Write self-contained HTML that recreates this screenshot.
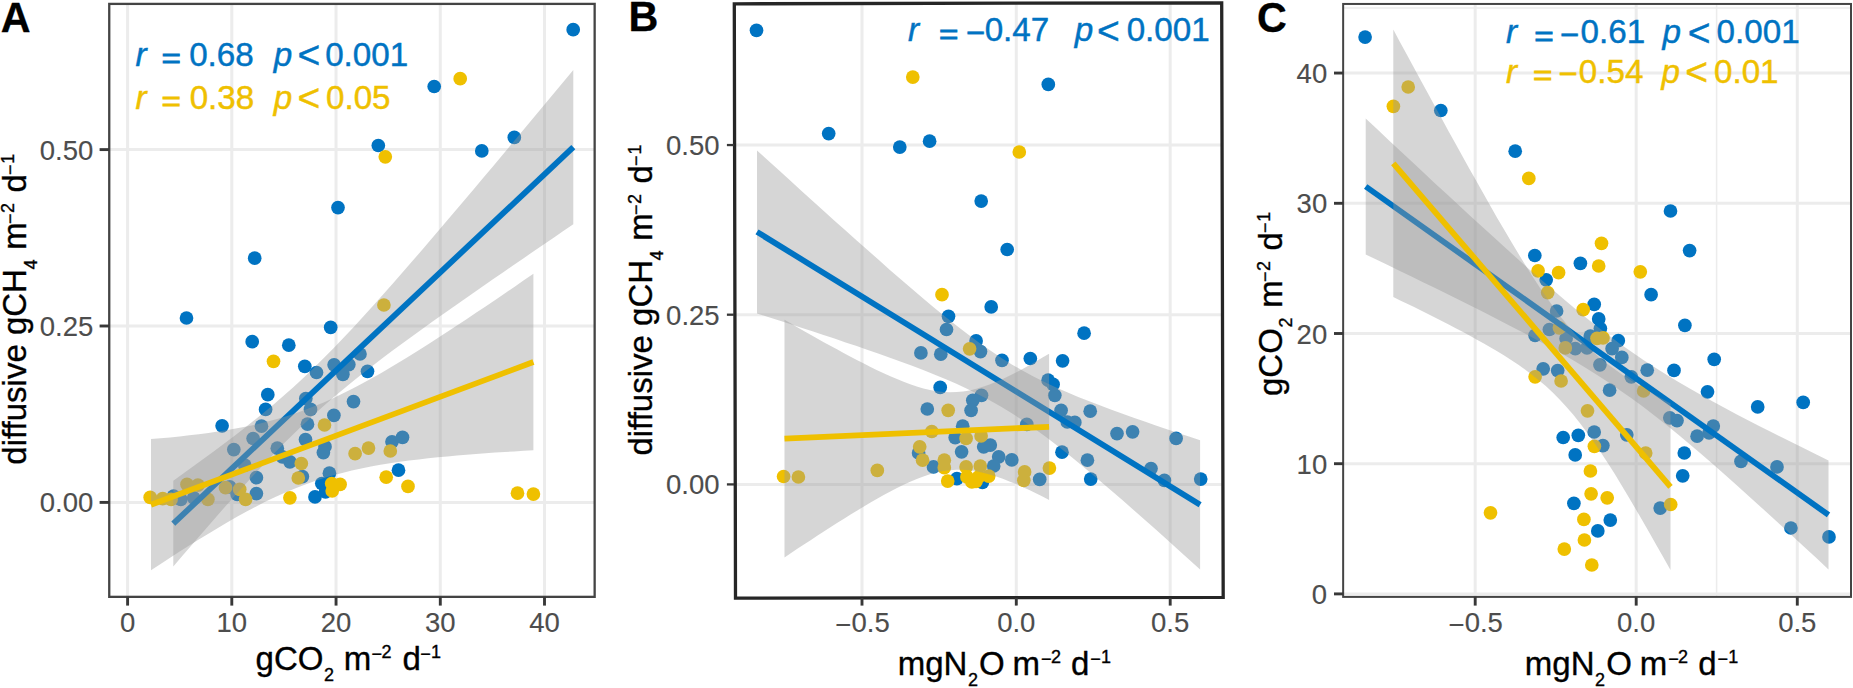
<!DOCTYPE html>
<html lang="en"><head><meta charset="utf-8"><title>Figure</title>
<style>
html,body{margin:0;padding:0;background:#fff;}
svg{display:block;}
text{font-family:"Liberation Sans",Arial,Helvetica,sans-serif;}
.tk text{fill:#4D4D4D;stroke:#4D4D4D;stroke-width:0.15px;}
.ax text{fill:#000;stroke:#000;stroke-width:0.35px;}
.lab{font-weight:bold;fill:#000;stroke:#000;stroke-width:0.3px;}
.i{font-style:italic;}
</style></head><body>
<svg width="1853" height="688" viewBox="0 0 1853 688">
<rect width="1853" height="688" fill="#fff"/>
<g id="panelA">
<clipPath id="ca"><rect x="109.25" y="3.9" width="485.4" height="592.95"/></clipPath>
<g clip-path="url(#ca)">
<line x1="109.25" y1="149.6" x2="594.65" y2="149.6" stroke="#ECECEC" stroke-width="3.0"/>
<line x1="109.25" y1="326.0" x2="594.65" y2="326.0" stroke="#ECECEC" stroke-width="3.0"/>
<line x1="109.25" y1="502.4" x2="594.65" y2="502.4" stroke="#ECECEC" stroke-width="3.0"/>
<line x1="127.6" y1="3.9" x2="127.6" y2="596.85" stroke="#ECECEC" stroke-width="3.0"/>
<line x1="231.8" y1="3.9" x2="231.8" y2="596.85" stroke="#ECECEC" stroke-width="3.0"/>
<line x1="336.05" y1="3.9" x2="336.05" y2="596.85" stroke="#ECECEC" stroke-width="3.0"/>
<line x1="440.3" y1="3.9" x2="440.3" y2="596.85" stroke="#ECECEC" stroke-width="3.0"/>
<line x1="544.5" y1="3.9" x2="544.5" y2="596.85" stroke="#ECECEC" stroke-width="3.0"/>
<circle cx="573.2" cy="29.7" r="6.85" fill="#0073C2"/>
<circle cx="434.2" cy="86.5" r="6.85" fill="#0073C2"/>
<circle cx="378.3" cy="145.5" r="6.85" fill="#0073C2"/>
<circle cx="481.8" cy="150.9" r="6.85" fill="#0073C2"/>
<circle cx="514.3" cy="137.4" r="6.85" fill="#0073C2"/>
<circle cx="338" cy="207.6" r="6.85" fill="#0073C2"/>
<circle cx="254.7" cy="258.2" r="6.85" fill="#0073C2"/>
<circle cx="186.5" cy="318" r="6.85" fill="#0073C2"/>
<circle cx="330.7" cy="327.4" r="6.85" fill="#0073C2"/>
<circle cx="252.2" cy="341.7" r="6.85" fill="#0073C2"/>
<circle cx="288.8" cy="345.2" r="6.85" fill="#0073C2"/>
<circle cx="304.8" cy="366.3" r="6.85" fill="#0073C2"/>
<circle cx="360" cy="354" r="6.85" fill="#0073C2"/>
<circle cx="334.1" cy="364.8" r="6.85" fill="#0073C2"/>
<circle cx="348.8" cy="364.6" r="6.85" fill="#0073C2"/>
<circle cx="367.5" cy="371.3" r="6.85" fill="#0073C2"/>
<circle cx="316.5" cy="372.5" r="6.85" fill="#0073C2"/>
<circle cx="342.9" cy="374.3" r="6.85" fill="#0073C2"/>
<circle cx="267.8" cy="394.7" r="6.85" fill="#0073C2"/>
<circle cx="265.6" cy="409.4" r="6.85" fill="#0073C2"/>
<circle cx="222.1" cy="425.8" r="6.85" fill="#0073C2"/>
<circle cx="305.8" cy="398.6" r="6.85" fill="#0073C2"/>
<circle cx="310.5" cy="409.4" r="6.85" fill="#0073C2"/>
<circle cx="353.5" cy="401.6" r="6.85" fill="#0073C2"/>
<circle cx="333.9" cy="415.3" r="6.85" fill="#0073C2"/>
<circle cx="307.5" cy="424.2" r="6.85" fill="#0073C2"/>
<circle cx="261.5" cy="426.2" r="6.85" fill="#0073C2"/>
<circle cx="253.1" cy="438.5" r="6.85" fill="#0073C2"/>
<circle cx="305.5" cy="439.6" r="6.85" fill="#0073C2"/>
<circle cx="233.8" cy="449.6" r="6.85" fill="#0073C2"/>
<circle cx="277.3" cy="448.2" r="6.85" fill="#0073C2"/>
<circle cx="325" cy="446.7" r="6.85" fill="#0073C2"/>
<circle cx="323.4" cy="452.6" r="6.85" fill="#0073C2"/>
<circle cx="392" cy="441.8" r="6.85" fill="#0073C2"/>
<circle cx="402.5" cy="437.3" r="6.85" fill="#0073C2"/>
<circle cx="282.4" cy="456.8" r="6.85" fill="#0073C2"/>
<circle cx="289.9" cy="461.8" r="6.85" fill="#0073C2"/>
<circle cx="256.4" cy="477.7" r="6.85" fill="#0073C2"/>
<circle cx="244.7" cy="465.1" r="6.85" fill="#0073C2"/>
<circle cx="302.4" cy="476.6" r="6.85" fill="#0073C2"/>
<circle cx="329.4" cy="473.2" r="6.85" fill="#0073C2"/>
<circle cx="321.8" cy="483.5" r="6.85" fill="#0073C2"/>
<circle cx="325.5" cy="491.9" r="6.85" fill="#0073C2"/>
<circle cx="315" cy="496.9" r="6.85" fill="#0073C2"/>
<circle cx="398.5" cy="470.2" r="6.85" fill="#0073C2"/>
<circle cx="256.4" cy="493.6" r="6.85" fill="#0073C2"/>
<circle cx="229.7" cy="486.9" r="6.85" fill="#0073C2"/>
<circle cx="237.2" cy="494.4" r="6.85" fill="#0073C2"/>
<circle cx="173.6" cy="496.1" r="6.85" fill="#0073C2"/>
<circle cx="180.8" cy="499.4" r="6.85" fill="#0073C2"/>
<circle cx="193.7" cy="497.8" r="6.85" fill="#0073C2"/>
<circle cx="460.2" cy="78.7" r="6.85" fill="#EFC000"/>
<circle cx="385.3" cy="156.8" r="6.85" fill="#EFC000"/>
<circle cx="383.9" cy="305" r="6.85" fill="#EFC000"/>
<circle cx="273.5" cy="361.3" r="6.85" fill="#EFC000"/>
<circle cx="324.5" cy="425" r="6.85" fill="#EFC000"/>
<circle cx="368.5" cy="448.1" r="6.85" fill="#EFC000"/>
<circle cx="355.1" cy="453.7" r="6.85" fill="#EFC000"/>
<circle cx="390.3" cy="451" r="6.85" fill="#EFC000"/>
<circle cx="301.3" cy="463.5" r="6.85" fill="#EFC000"/>
<circle cx="298.3" cy="478" r="6.85" fill="#EFC000"/>
<circle cx="331.7" cy="483.5" r="6.85" fill="#EFC000"/>
<circle cx="340.1" cy="484.4" r="6.85" fill="#EFC000"/>
<circle cx="332.2" cy="491" r="6.85" fill="#EFC000"/>
<circle cx="386.2" cy="477.2" r="6.85" fill="#EFC000"/>
<circle cx="408" cy="486.4" r="6.85" fill="#EFC000"/>
<circle cx="289.9" cy="497.8" r="6.85" fill="#EFC000"/>
<circle cx="187" cy="484.4" r="6.85" fill="#EFC000"/>
<circle cx="197.9" cy="485.2" r="6.85" fill="#EFC000"/>
<circle cx="225.5" cy="487.7" r="6.85" fill="#EFC000"/>
<circle cx="239.7" cy="489.4" r="6.85" fill="#EFC000"/>
<circle cx="245.6" cy="499.4" r="6.85" fill="#EFC000"/>
<circle cx="150.2" cy="497.4" r="6.85" fill="#EFC000"/>
<circle cx="162.7" cy="498.6" r="6.85" fill="#EFC000"/>
<circle cx="171.1" cy="499.4" r="6.85" fill="#EFC000"/>
<circle cx="207.9" cy="499.4" r="6.85" fill="#EFC000"/>
<circle cx="517.5" cy="493.2" r="6.85" fill="#EFC000"/>
<circle cx="533.4" cy="494.1" r="6.85" fill="#EFC000"/>
<path d="M173.3,480.7 L183.3,473.5 L193.3,466.3 L203.3,459.1 L213.3,451.7 L223.3,444.3 L233.3,436.7 L243.3,429.0 L253.3,421.1 L263.3,413.0 L273.3,404.7 L283.3,396.1 L293.3,387.2 L303.3,378.0 L313.3,368.5 L323.3,358.6 L333.3,348.5 L343.3,338.1 L353.3,327.4 L363.3,316.6 L373.3,305.5 L383.3,294.3 L393.3,283.0 L403.3,271.6 L413.3,260.1 L423.3,248.5 L433.3,236.8 L443.3,225.1 L453.3,213.3 L463.3,201.5 L473.3,189.7 L483.3,177.8 L493.3,165.9 L503.3,154.0 L513.3,142.0 L523.3,130.1 L533.3,118.1 L543.3,106.1 L553.3,94.1 L563.3,82.1 L573.3,70.1 L573.3,224.3 L563.3,231.1 L553.3,237.9 L543.3,244.7 L533.3,251.6 L523.3,258.4 L513.3,265.3 L503.3,272.2 L493.3,279.1 L483.3,286.0 L473.3,292.9 L463.3,299.9 L453.3,306.9 L443.3,314.0 L433.3,321.1 L423.3,328.2 L413.3,335.5 L403.3,342.8 L393.3,350.1 L383.3,357.6 L373.3,365.3 L363.3,373.0 L353.3,381.0 L343.3,389.2 L333.3,397.6 L323.3,406.3 L313.3,415.3 L303.3,424.6 L293.3,434.2 L283.3,444.1 L273.3,454.3 L263.3,464.8 L253.3,475.6 L243.3,486.5 L233.3,497.6 L223.3,508.8 L213.3,520.2 L203.3,531.7 L193.3,543.2 L183.3,554.8 L173.3,566.5Z" fill="#999999" fill-opacity="0.4"/>
<line x1="173.3" y1="523.6" x2="573.3" y2="147.2" stroke="#0073C2" stroke-width="5.8"/>
<path d="M151.0,439.1 L160.6,438.3 L170.1,437.4 L179.7,436.4 L189.2,435.3 L198.8,434.2 L208.4,432.9 L217.9,431.5 L227.5,430.0 L237.0,428.3 L246.6,426.5 L256.2,424.4 L265.7,422.1 L275.3,419.6 L284.8,416.8 L294.4,413.7 L304.0,410.3 L313.5,406.6 L323.1,402.7 L332.6,398.4 L342.2,393.8 L351.8,389.0 L361.3,384.0 L370.9,378.8 L380.4,373.4 L390.0,367.8 L399.6,362.1 L409.1,356.2 L418.7,350.2 L428.2,344.2 L437.8,338.0 L447.4,331.8 L456.9,325.5 L466.5,319.2 L476.0,312.8 L485.6,306.4 L495.2,299.9 L504.7,293.4 L514.3,286.9 L523.8,280.3 L533.4,273.7 L533.4,450.3 L523.8,450.8 L514.3,451.4 L504.7,452.0 L495.2,452.6 L485.6,453.3 L476.0,454.0 L466.5,454.7 L456.9,455.5 L447.4,456.4 L437.8,457.3 L428.2,458.3 L418.7,459.4 L409.1,460.6 L399.6,461.8 L390.0,463.2 L380.4,464.8 L370.9,466.5 L361.3,468.4 L351.8,470.5 L342.2,472.9 L332.6,475.5 L323.1,478.3 L313.5,481.5 L304.0,484.9 L294.4,488.7 L284.8,492.7 L275.3,497.0 L265.7,501.6 L256.2,506.5 L246.6,511.6 L237.0,516.8 L227.5,522.3 L217.9,527.9 L208.4,533.7 L198.8,539.6 L189.2,545.5 L179.7,551.6 L170.1,557.8 L160.6,564.0 L151.0,570.3Z" fill="#999999" fill-opacity="0.4"/>
<line x1="151.0" y1="504.7" x2="533.4" y2="362.0" stroke="#EFC000" stroke-width="5.8"/>
</g>
<rect x="109.25" y="3.9" width="485.4" height="592.95" fill="none" stroke="#444" stroke-width="2.3"/>
<line x1="127.6" y1="596.85" x2="127.6" y2="605.6" stroke="#383838" stroke-width="2.9"/>
<line x1="231.8" y1="596.85" x2="231.8" y2="605.6" stroke="#383838" stroke-width="2.9"/>
<line x1="336.05" y1="596.85" x2="336.05" y2="605.6" stroke="#383838" stroke-width="2.9"/>
<line x1="440.3" y1="596.85" x2="440.3" y2="605.6" stroke="#383838" stroke-width="2.9"/>
<line x1="544.5" y1="596.85" x2="544.5" y2="605.6" stroke="#383838" stroke-width="2.9"/>
<line x1="99.6" y1="149.6" x2="109.25" y2="149.6" stroke="#383838" stroke-width="2.9"/>
<line x1="99.6" y1="326.0" x2="109.25" y2="326.0" stroke="#383838" stroke-width="2.9"/>
<line x1="99.6" y1="502.4" x2="109.25" y2="502.4" stroke="#383838" stroke-width="2.9"/>
<g class="tk">
<text x="127.6" y="632.1" text-anchor="middle" font-size="27.5">0</text>
<text x="231.8" y="632.1" text-anchor="middle" font-size="27.5">10</text>
<text x="336.05" y="632.1" text-anchor="middle" font-size="27.5">20</text>
<text x="440.3" y="632.1" text-anchor="middle" font-size="27.5">30</text>
<text x="544.5" y="632.1" text-anchor="middle" font-size="27.5">40</text>
<text x="39.74" y="159.6" font-size="27.5">0.50</text>
<text x="39.81" y="336" font-size="27.5">0.25</text>
<text x="39.74" y="512.4" font-size="27.5">0.00</text>
</g>
<g class="ax">
<text x="255.6" y="669.8" font-size="33">gCO</text>
<text x="324.1" y="680.5" font-size="18">2</text>
<text x="343.77" y="669.8" font-size="33">m</text>
<text x="371.6" y="659.6" font-size="18">−</text>
<text x="381.4" y="658.2" font-size="18">2</text>
<text x="402.4" y="669.8" font-size="33">d</text>
<text x="420.2" y="659.6" font-size="18">−</text>
<text x="431.05" y="658.2" font-size="18">1</text>
</g>
<g class="ax">
<text transform="translate(26,464.7) rotate(-90)" font-size="33">diffusive gCH</text>
<text transform="translate(36.7,269.6) rotate(-90)" font-size="18">4</text>
<text transform="translate(26,249.83) rotate(-90)" font-size="33">m</text>
<text transform="translate(15.8,224.1) rotate(-90)" font-size="18">−</text>
<text transform="translate(14.4,213) rotate(-90)" font-size="18">2</text>
<text transform="translate(26,192.5) rotate(-90)" font-size="33">d</text>
<text transform="translate(15.8,175) rotate(-90)" font-size="18">−</text>
<text transform="translate(14.4,163.65) rotate(-90)" font-size="18">1</text>
</g>
<text class="lab" transform="translate(0.87,31.6) scale(0.965,1)" font-size="42.8">A</text>
<g fill="#0073C2" stroke="#0073C2" stroke-width="0.45">
<text class="i" x="135.42" y="65.6" font-size="33.2">r</text>
<text transform="translate(161.54,67.9) scale(1,0.855)" font-size="33.2" stroke-width="1">=</text>
<text x="189.17" y="65.6" font-size="33.2">0.68</text>
<text class="i" x="273.63" y="65.6" font-size="33.2">p</text>
<text x="297.45" y="68.2" font-size="39">&lt;</text>
<text x="325.17" y="65.6" font-size="33.2">0.001</text>
</g>
<g fill="#EFC000" stroke="#EFC000" stroke-width="0.45">
<text class="i" x="135.42" y="108.7" font-size="33.2">r</text>
<text transform="translate(161.54,111) scale(1,0.855)" font-size="33.2" stroke-width="1">=</text>
<text x="189.67" y="108.7" font-size="33.2">0.38</text>
<text class="i" x="273.63" y="108.7" font-size="33.2">p</text>
<text x="297.45" y="111.3" font-size="39">&lt;</text>
<text x="325.97" y="108.7" font-size="33.2">0.05</text>
</g>
</g>
<g id="panelB">
<clipPath id="cb"><rect x="734.9" y="3.3" width="487.5" height="594.5"/></clipPath>
<g clip-path="url(#cb)">
<line x1="734.9" y1="145.05" x2="1222.4" y2="145.05" stroke="#ECECEC" stroke-width="3.0"/>
<line x1="734.9" y1="314.7" x2="1222.4" y2="314.7" stroke="#ECECEC" stroke-width="3.0"/>
<line x1="734.9" y1="484.4" x2="1222.4" y2="484.4" stroke="#ECECEC" stroke-width="3.0"/>
<line x1="862.0" y1="3.3" x2="862.0" y2="597.8" stroke="#ECECEC" stroke-width="3.0"/>
<line x1="1016.3" y1="3.3" x2="1016.3" y2="597.8" stroke="#ECECEC" stroke-width="3.0"/>
<line x1="1170.2" y1="3.3" x2="1170.2" y2="597.8" stroke="#ECECEC" stroke-width="3.0"/>
<circle cx="756.5" cy="30.3" r="6.85" fill="#0073C2"/>
<circle cx="1048.3" cy="84.4" r="6.85" fill="#0073C2"/>
<circle cx="828.7" cy="133.6" r="6.85" fill="#0073C2"/>
<circle cx="899.8" cy="147.1" r="6.85" fill="#0073C2"/>
<circle cx="929.6" cy="141.2" r="6.85" fill="#0073C2"/>
<circle cx="981.2" cy="201.1" r="6.85" fill="#0073C2"/>
<circle cx="1007.2" cy="249.5" r="6.85" fill="#0073C2"/>
<circle cx="991.2" cy="306.9" r="6.85" fill="#0073C2"/>
<circle cx="948.5" cy="316.3" r="6.85" fill="#0073C2"/>
<circle cx="946.5" cy="329.5" r="6.85" fill="#0073C2"/>
<circle cx="976.1" cy="340.9" r="6.85" fill="#0073C2"/>
<circle cx="980.5" cy="351.6" r="6.85" fill="#0073C2"/>
<circle cx="920.9" cy="352.9" r="6.85" fill="#0073C2"/>
<circle cx="940.8" cy="354.2" r="6.85" fill="#0073C2"/>
<circle cx="1002" cy="360.3" r="6.85" fill="#0073C2"/>
<circle cx="1030.3" cy="358.5" r="6.85" fill="#0073C2"/>
<circle cx="1062.6" cy="360.8" r="6.85" fill="#0073C2"/>
<circle cx="1084.1" cy="333.2" r="6.85" fill="#0073C2"/>
<circle cx="940.2" cy="387.4" r="6.85" fill="#0073C2"/>
<circle cx="1048.1" cy="380.2" r="6.85" fill="#0073C2"/>
<circle cx="1053.1" cy="384.4" r="6.85" fill="#0073C2"/>
<circle cx="1054.8" cy="395.3" r="6.85" fill="#0073C2"/>
<circle cx="981.5" cy="395.3" r="6.85" fill="#0073C2"/>
<circle cx="972.8" cy="400.3" r="6.85" fill="#0073C2"/>
<circle cx="971.1" cy="410.3" r="6.85" fill="#0073C2"/>
<circle cx="927.3" cy="409" r="6.85" fill="#0073C2"/>
<circle cx="1061.1" cy="410.3" r="6.85" fill="#0073C2"/>
<circle cx="1090.2" cy="411.2" r="6.85" fill="#0073C2"/>
<circle cx="1074.8" cy="422.4" r="6.85" fill="#0073C2"/>
<circle cx="1067.3" cy="422" r="6.85" fill="#0073C2"/>
<circle cx="962.7" cy="426.2" r="6.85" fill="#0073C2"/>
<circle cx="1026.8" cy="424.4" r="6.85" fill="#0073C2"/>
<circle cx="1117" cy="433.6" r="6.85" fill="#0073C2"/>
<circle cx="1132.6" cy="431.8" r="6.85" fill="#0073C2"/>
<circle cx="1176.1" cy="438.4" r="6.85" fill="#0073C2"/>
<circle cx="955.2" cy="437.6" r="6.85" fill="#0073C2"/>
<circle cx="990.3" cy="445.1" r="6.85" fill="#0073C2"/>
<circle cx="983.7" cy="446.8" r="6.85" fill="#0073C2"/>
<circle cx="918.6" cy="452.9" r="6.85" fill="#0073C2"/>
<circle cx="961.6" cy="451.8" r="6.85" fill="#0073C2"/>
<circle cx="1062" cy="452.2" r="6.85" fill="#0073C2"/>
<circle cx="998.7" cy="456.8" r="6.85" fill="#0073C2"/>
<circle cx="1011.8" cy="459.9" r="6.85" fill="#0073C2"/>
<circle cx="1087.4" cy="460.2" r="6.85" fill="#0073C2"/>
<circle cx="933.5" cy="466.9" r="6.85" fill="#0073C2"/>
<circle cx="993.7" cy="466" r="6.85" fill="#0073C2"/>
<circle cx="1039.7" cy="479.4" r="6.85" fill="#0073C2"/>
<circle cx="1090.7" cy="479.1" r="6.85" fill="#0073C2"/>
<circle cx="1151" cy="468.6" r="6.85" fill="#0073C2"/>
<circle cx="1164.4" cy="480.3" r="6.85" fill="#0073C2"/>
<circle cx="1200.7" cy="479.1" r="6.85" fill="#0073C2"/>
<circle cx="956.9" cy="478.6" r="6.85" fill="#0073C2"/>
<circle cx="982.4" cy="482.3" r="6.85" fill="#0073C2"/>
<circle cx="912.8" cy="77.1" r="6.85" fill="#EFC000"/>
<circle cx="1019.3" cy="152" r="6.85" fill="#EFC000"/>
<circle cx="942" cy="294.7" r="6.85" fill="#EFC000"/>
<circle cx="969.6" cy="348.8" r="6.85" fill="#EFC000"/>
<circle cx="948.2" cy="410.3" r="6.85" fill="#EFC000"/>
<circle cx="931.8" cy="431.5" r="6.85" fill="#EFC000"/>
<circle cx="966.1" cy="438.4" r="6.85" fill="#EFC000"/>
<circle cx="981.1" cy="435.9" r="6.85" fill="#EFC000"/>
<circle cx="919.7" cy="446.8" r="6.85" fill="#EFC000"/>
<circle cx="922.6" cy="460.2" r="6.85" fill="#EFC000"/>
<circle cx="944.3" cy="460.2" r="6.85" fill="#EFC000"/>
<circle cx="944.3" cy="467.7" r="6.85" fill="#EFC000"/>
<circle cx="1049.4" cy="468.1" r="6.85" fill="#EFC000"/>
<circle cx="1024.6" cy="471.9" r="6.85" fill="#EFC000"/>
<circle cx="1023.8" cy="480.3" r="6.85" fill="#EFC000"/>
<circle cx="966.1" cy="466.9" r="6.85" fill="#EFC000"/>
<circle cx="980.3" cy="466" r="6.85" fill="#EFC000"/>
<circle cx="947.7" cy="481.1" r="6.85" fill="#EFC000"/>
<circle cx="966.9" cy="476.9" r="6.85" fill="#EFC000"/>
<circle cx="971.9" cy="481.9" r="6.85" fill="#EFC000"/>
<circle cx="978.6" cy="476.9" r="6.85" fill="#EFC000"/>
<circle cx="988.7" cy="476.1" r="6.85" fill="#EFC000"/>
<circle cx="976" cy="481.3" r="6.85" fill="#EFC000"/>
<circle cx="783.6" cy="476.5" r="6.85" fill="#EFC000"/>
<circle cx="798.4" cy="477" r="6.85" fill="#EFC000"/>
<circle cx="877.3" cy="470.4" r="6.85" fill="#EFC000"/>
<path d="M757.0,150.4 L768.1,160.5 L779.2,170.6 L790.2,180.6 L801.3,190.7 L812.4,200.7 L823.5,210.7 L834.5,220.7 L845.6,230.6 L856.7,240.5 L867.8,250.3 L878.9,260.1 L889.9,269.9 L901.0,279.5 L912.1,289.0 L923.2,298.4 L934.2,307.7 L945.3,316.8 L956.4,325.6 L967.5,334.1 L978.5,342.3 L989.6,350.1 L1000.7,357.5 L1011.8,364.4 L1022.9,370.8 L1033.9,376.7 L1045.0,382.2 L1056.1,387.4 L1067.2,392.3 L1078.2,396.9 L1089.3,401.3 L1100.4,405.6 L1111.5,409.7 L1122.6,413.8 L1133.6,417.7 L1144.7,421.6 L1155.8,425.4 L1166.9,429.2 L1177.9,432.9 L1189.0,436.6 L1200.1,440.2 L1200.1,569.4 L1189.0,559.4 L1177.9,549.4 L1166.9,539.5 L1155.8,529.6 L1144.7,519.8 L1133.6,510.0 L1122.6,500.3 L1111.5,490.7 L1100.4,481.2 L1089.3,471.8 L1078.2,462.6 L1067.2,453.6 L1056.1,444.8 L1045.0,436.3 L1033.9,428.2 L1022.9,420.5 L1011.8,413.3 L1000.7,406.5 L989.6,400.2 L978.5,394.4 L967.5,388.9 L956.4,383.8 L945.3,379.0 L934.2,374.4 L923.2,370.0 L912.1,365.8 L901.0,361.7 L889.9,357.7 L878.9,353.8 L867.8,349.9 L856.7,346.1 L845.6,342.4 L834.5,338.6 L823.5,335.0 L812.4,331.3 L801.3,327.7 L790.2,324.1 L779.2,320.5 L768.1,317.0 L757.0,313.4Z" fill="#999999" fill-opacity="0.4"/>
<line x1="757.0" y1="231.9" x2="1200.1" y2="504.8" stroke="#0073C2" stroke-width="5.8"/>
<path d="M784.5,319.8 L791.1,323.6 L797.7,327.4 L804.3,331.2 L811.0,334.9 L817.6,338.7 L824.2,342.4 L830.8,346.0 L837.4,349.6 L844.0,353.2 L850.6,356.7 L857.3,360.2 L863.9,363.6 L870.5,366.9 L877.1,370.2 L883.7,373.3 L890.3,376.3 L897.0,379.1 L903.6,381.8 L910.2,384.3 L916.8,386.5 L923.4,388.4 L930.0,390.0 L936.6,391.2 L943.3,392.0 L949.9,392.3 L956.5,392.1 L963.1,391.5 L969.7,390.4 L976.3,388.8 L982.9,386.8 L989.6,384.5 L996.2,381.8 L1002.8,378.9 L1009.4,375.8 L1016.0,372.4 L1022.6,368.9 L1029.3,365.3 L1035.9,361.5 L1042.5,357.6 L1049.1,353.7 L1049.1,499.9 L1042.5,496.6 L1035.9,493.3 L1029.3,490.1 L1022.6,487.0 L1016.0,484.1 L1009.4,481.4 L1002.8,478.8 L996.2,476.5 L989.6,474.4 L982.9,472.7 L976.3,471.3 L969.7,470.3 L963.1,469.8 L956.5,469.7 L949.9,470.2 L943.3,471.1 L936.6,472.4 L930.0,474.2 L923.4,476.4 L916.8,478.9 L910.2,481.7 L903.6,484.8 L897.0,488.0 L890.3,491.5 L883.7,495.1 L877.1,498.8 L870.5,502.6 L863.9,506.5 L857.3,510.5 L850.6,514.6 L844.0,518.7 L837.4,522.8 L830.8,527.1 L824.2,531.3 L817.6,535.6 L811.0,539.9 L804.3,544.2 L797.7,548.6 L791.1,553.0 L784.5,557.4Z" fill="#999999" fill-opacity="0.4"/>
<line x1="784.5" y1="438.6" x2="1049.1" y2="426.8" stroke="#EFC000" stroke-width="5.8"/>
</g>
<path d="M734.3,3.8 L1221.7,2.8 L1223.2,597.4 L735.5,598.1 Z" fill="none" stroke="#262626" stroke-width="3.3" stroke-linejoin="miter"/>
<line x1="862.0" y1="598" x2="862.0" y2="605.6" stroke="#383838" stroke-width="2.9"/>
<line x1="1016.3" y1="598" x2="1016.3" y2="605.6" stroke="#383838" stroke-width="2.9"/>
<line x1="1170.2" y1="598" x2="1170.2" y2="605.6" stroke="#383838" stroke-width="2.9"/>
<line x1="726.9" y1="145.05" x2="734" y2="145.05" stroke="#383838" stroke-width="2.3"/>
<line x1="726.9" y1="314.7" x2="734" y2="314.7" stroke="#383838" stroke-width="2.3"/>
<line x1="726.9" y1="484.4" x2="734" y2="484.4" stroke="#383838" stroke-width="2.3"/>
<g class="tk">
<text x="835.12" y="634.2" font-size="27.5">−</text>
<text x="851.5" y="632.1" font-size="27.5">0.5</text>
<text x="1016.3" y="632.1" text-anchor="middle" font-size="27.5">0.0</text>
<text x="1170.2" y="632.1" text-anchor="middle" font-size="27.5">0.5</text>
<text x="666.04" y="155.05" font-size="27.5">0.50</text>
<text x="666.11" y="324.7" font-size="27.5">0.25</text>
<text x="666.04" y="494.4" font-size="27.5">0.00</text>
</g>
<g class="ax">
<text x="897.67" y="675" font-size="33">mgN</text>
<text x="967.9" y="685.7" font-size="18">2</text>
<text x="979.03" y="675" font-size="33">O</text>
<text x="1012.47" y="675" font-size="33">m</text>
<text x="1041.1" y="664.8" font-size="18">−</text>
<text x="1050.9" y="663.4" font-size="18">2</text>
<text x="1071" y="675" font-size="33">d</text>
<text x="1090.2" y="664.8" font-size="18">−</text>
<text x="1101.05" y="663.4" font-size="18">1</text>
</g>
<g class="ax">
<text transform="translate(652.2,455.6) rotate(-90)" font-size="33">diffusive gCH</text>
<text transform="translate(662.9,260.5) rotate(-90)" font-size="18">4</text>
<text transform="translate(652.2,240.73) rotate(-90)" font-size="33">m</text>
<text transform="translate(642,215) rotate(-90)" font-size="18">−</text>
<text transform="translate(640.6,203.9) rotate(-90)" font-size="18">2</text>
<text transform="translate(652.2,183.4) rotate(-90)" font-size="33">d</text>
<text transform="translate(642,165.9) rotate(-90)" font-size="18">−</text>
<text transform="translate(640.6,154.55) rotate(-90)" font-size="18">1</text>
</g>
<text class="lab" transform="translate(628.41,31.3) scale(0.965,1)" font-size="42.8">B</text>
<g fill="#0073C2" stroke="#0073C2" stroke-width="0.45">
<text class="i" x="907.92" y="41.2" font-size="33.2">r</text>
<text transform="translate(938.94,43.5) scale(1,0.855)" font-size="33.2" stroke-width="1">=</text>
<text x="965.64" y="43.7" font-size="33.2">−</text>
<text x="984.67" y="41.2" font-size="33.2">0.47</text>
<text class="i" x="1074.63" y="41.2" font-size="33.2">p</text>
<text x="1097.05" y="43.8" font-size="39">&lt;</text>
<text x="1126.67" y="41.2" font-size="33.2">0.001</text>
</g>
</g>
<g id="panelC">
<clipPath id="cc"><rect x="1343.15" y="3.95" width="507.85" height="592.95"/></clipPath>
<g clip-path="url(#cc)">
<line x1="1343.15" y1="7.9" x2="1851.0" y2="7.9" stroke="#ECECEC" stroke-width="1.5"/>
<line x1="1716.6" y1="3.95" x2="1716.6" y2="596.9" stroke="#ECECEC" stroke-width="1.5"/>
<line x1="1343.15" y1="73.05" x2="1851.0" y2="73.05" stroke="#ECECEC" stroke-width="3.0"/>
<line x1="1343.15" y1="203.3" x2="1851.0" y2="203.3" stroke="#ECECEC" stroke-width="3.0"/>
<line x1="1343.15" y1="333.5" x2="1851.0" y2="333.5" stroke="#ECECEC" stroke-width="3.0"/>
<line x1="1343.15" y1="463.7" x2="1851.0" y2="463.7" stroke="#ECECEC" stroke-width="3.0"/>
<line x1="1343.15" y1="593.9" x2="1851.0" y2="593.9" stroke="#ECECEC" stroke-width="3.0"/>
<line x1="1475.2" y1="3.95" x2="1475.2" y2="596.9" stroke="#ECECEC" stroke-width="3.0"/>
<line x1="1636.2" y1="3.95" x2="1636.2" y2="596.9" stroke="#ECECEC" stroke-width="3.0"/>
<line x1="1797.3" y1="3.95" x2="1797.3" y2="596.9" stroke="#ECECEC" stroke-width="3.0"/>
<circle cx="1365.1" cy="37.1" r="6.85" fill="#0073C2"/>
<circle cx="1440.8" cy="110.5" r="6.85" fill="#0073C2"/>
<circle cx="1515.2" cy="151.2" r="6.85" fill="#0073C2"/>
<circle cx="1670.5" cy="211" r="6.85" fill="#0073C2"/>
<circle cx="1689.6" cy="250.6" r="6.85" fill="#0073C2"/>
<circle cx="1534.8" cy="255.5" r="6.85" fill="#0073C2"/>
<circle cx="1580.4" cy="263.3" r="6.85" fill="#0073C2"/>
<circle cx="1546.2" cy="279.8" r="6.85" fill="#0073C2"/>
<circle cx="1651.1" cy="294.7" r="6.85" fill="#0073C2"/>
<circle cx="1594.2" cy="304.4" r="6.85" fill="#0073C2"/>
<circle cx="1556.6" cy="311" r="6.85" fill="#0073C2"/>
<circle cx="1598.7" cy="318.9" r="6.85" fill="#0073C2"/>
<circle cx="1684.9" cy="325.3" r="6.85" fill="#0073C2"/>
<circle cx="1600.4" cy="328.6" r="6.85" fill="#0073C2"/>
<circle cx="1549.4" cy="329.5" r="6.85" fill="#0073C2"/>
<circle cx="1535.1" cy="335.3" r="6.85" fill="#0073C2"/>
<circle cx="1590.3" cy="336.1" r="6.85" fill="#0073C2"/>
<circle cx="1566.1" cy="338.7" r="6.85" fill="#0073C2"/>
<circle cx="1618.3" cy="340.7" r="6.85" fill="#0073C2"/>
<circle cx="1575.3" cy="348.7" r="6.85" fill="#0073C2"/>
<circle cx="1587" cy="347.9" r="6.85" fill="#0073C2"/>
<circle cx="1612.1" cy="348.7" r="6.85" fill="#0073C2"/>
<circle cx="1621.8" cy="357.4" r="6.85" fill="#0073C2"/>
<circle cx="1599.9" cy="364.8" r="6.85" fill="#0073C2"/>
<circle cx="1714.2" cy="359.3" r="6.85" fill="#0073C2"/>
<circle cx="1543.2" cy="368.8" r="6.85" fill="#0073C2"/>
<circle cx="1557.7" cy="370.6" r="6.85" fill="#0073C2"/>
<circle cx="1647.2" cy="370.2" r="6.85" fill="#0073C2"/>
<circle cx="1674" cy="370.4" r="6.85" fill="#0073C2"/>
<circle cx="1631.3" cy="376.8" r="6.85" fill="#0073C2"/>
<circle cx="1609.6" cy="390.2" r="6.85" fill="#0073C2"/>
<circle cx="1707.5" cy="391.8" r="6.85" fill="#0073C2"/>
<circle cx="1757.7" cy="406.9" r="6.85" fill="#0073C2"/>
<circle cx="1803.2" cy="402.4" r="6.85" fill="#0073C2"/>
<circle cx="1669.8" cy="417.8" r="6.85" fill="#0073C2"/>
<circle cx="1677" cy="420.6" r="6.85" fill="#0073C2"/>
<circle cx="1713.3" cy="426.1" r="6.85" fill="#0073C2"/>
<circle cx="1709.1" cy="432.8" r="6.85" fill="#0073C2"/>
<circle cx="1697.1" cy="436.2" r="6.85" fill="#0073C2"/>
<circle cx="1594.2" cy="432" r="6.85" fill="#0073C2"/>
<circle cx="1563.2" cy="437.5" r="6.85" fill="#0073C2"/>
<circle cx="1578.3" cy="435.3" r="6.85" fill="#0073C2"/>
<circle cx="1626.8" cy="434.8" r="6.85" fill="#0073C2"/>
<circle cx="1602.9" cy="445.6" r="6.85" fill="#0073C2"/>
<circle cx="1684.3" cy="453" r="6.85" fill="#0073C2"/>
<circle cx="1575.2" cy="454.9" r="6.85" fill="#0073C2"/>
<circle cx="1741" cy="461.4" r="6.85" fill="#0073C2"/>
<circle cx="1777" cy="466.9" r="6.85" fill="#0073C2"/>
<circle cx="1682.7" cy="475.8" r="6.85" fill="#0073C2"/>
<circle cx="1573.9" cy="503.3" r="6.85" fill="#0073C2"/>
<circle cx="1660.2" cy="508.1" r="6.85" fill="#0073C2"/>
<circle cx="1610.3" cy="520.1" r="6.85" fill="#0073C2"/>
<circle cx="1597.8" cy="530.9" r="6.85" fill="#0073C2"/>
<circle cx="1790.9" cy="528" r="6.85" fill="#0073C2"/>
<circle cx="1829" cy="536.9" r="6.85" fill="#0073C2"/>
<circle cx="1408.2" cy="87" r="6.85" fill="#EFC000"/>
<circle cx="1393.4" cy="106.3" r="6.85" fill="#EFC000"/>
<circle cx="1528.8" cy="178.4" r="6.85" fill="#EFC000"/>
<circle cx="1601.5" cy="243.3" r="6.85" fill="#EFC000"/>
<circle cx="1598.7" cy="266" r="6.85" fill="#EFC000"/>
<circle cx="1538.1" cy="270.8" r="6.85" fill="#EFC000"/>
<circle cx="1558.6" cy="272.7" r="6.85" fill="#EFC000"/>
<circle cx="1640.3" cy="271.8" r="6.85" fill="#EFC000"/>
<circle cx="1547.7" cy="292.6" r="6.85" fill="#EFC000"/>
<circle cx="1583.2" cy="309.7" r="6.85" fill="#EFC000"/>
<circle cx="1559.4" cy="327.8" r="6.85" fill="#EFC000"/>
<circle cx="1597" cy="338.3" r="6.85" fill="#EFC000"/>
<circle cx="1603" cy="337.9" r="6.85" fill="#EFC000"/>
<circle cx="1565.3" cy="347.9" r="6.85" fill="#EFC000"/>
<circle cx="1535.1" cy="376.8" r="6.85" fill="#EFC000"/>
<circle cx="1561.1" cy="381" r="6.85" fill="#EFC000"/>
<circle cx="1643.6" cy="391" r="6.85" fill="#EFC000"/>
<circle cx="1587.5" cy="410.8" r="6.85" fill="#EFC000"/>
<circle cx="1594.4" cy="446.3" r="6.85" fill="#EFC000"/>
<circle cx="1645.7" cy="453" r="6.85" fill="#EFC000"/>
<circle cx="1590.4" cy="471" r="6.85" fill="#EFC000"/>
<circle cx="1591.1" cy="493.8" r="6.85" fill="#EFC000"/>
<circle cx="1607.2" cy="497.8" r="6.85" fill="#EFC000"/>
<circle cx="1670.7" cy="504.5" r="6.85" fill="#EFC000"/>
<circle cx="1583.9" cy="519.4" r="6.85" fill="#EFC000"/>
<circle cx="1584.4" cy="540" r="6.85" fill="#EFC000"/>
<circle cx="1564.3" cy="549.1" r="6.85" fill="#EFC000"/>
<circle cx="1591.8" cy="565" r="6.85" fill="#EFC000"/>
<circle cx="1490.5" cy="512.8" r="6.85" fill="#EFC000"/>
<path d="M1365.7,118.5 L1377.3,129.3 L1388.8,140.2 L1400.4,151.0 L1412.0,161.8 L1423.5,172.6 L1435.1,183.4 L1446.7,194.1 L1458.3,204.8 L1469.8,215.5 L1481.4,226.1 L1493.0,236.6 L1504.5,247.1 L1516.1,257.5 L1527.7,267.9 L1539.2,278.1 L1550.8,288.1 L1562.4,298.0 L1574.0,307.7 L1585.5,317.2 L1597.1,326.4 L1608.7,335.3 L1620.2,343.9 L1631.8,352.1 L1643.4,360.0 L1655.0,367.6 L1666.5,374.8 L1678.1,381.8 L1689.7,388.6 L1701.2,395.1 L1712.8,401.5 L1724.4,407.8 L1735.9,413.9 L1747.5,419.9 L1759.1,425.9 L1770.7,431.7 L1782.2,437.6 L1793.8,443.3 L1805.4,449.1 L1816.9,454.7 L1828.5,460.4 L1828.5,569.4 L1816.9,558.6 L1805.4,547.9 L1793.8,537.2 L1782.2,526.6 L1770.7,516.0 L1759.1,505.4 L1747.5,494.9 L1735.9,484.5 L1724.4,474.3 L1712.8,464.1 L1701.2,454.0 L1689.7,444.2 L1678.1,434.5 L1666.5,425.1 L1655.0,415.9 L1643.4,407.1 L1631.8,398.5 L1620.2,390.4 L1608.7,382.5 L1597.1,375.0 L1585.5,367.8 L1574.0,360.8 L1562.4,354.1 L1550.8,347.6 L1539.2,341.2 L1527.7,335.0 L1516.1,328.9 L1504.5,322.9 L1493.0,317.0 L1481.4,311.1 L1469.8,305.3 L1458.3,299.5 L1446.7,293.8 L1435.1,288.1 L1423.5,282.5 L1412.0,276.8 L1400.4,271.2 L1388.8,265.6 L1377.3,260.1 L1365.7,254.5Z" fill="#999999" fill-opacity="0.4"/>
<line x1="1365.7" y1="186.5" x2="1828.5" y2="514.9" stroke="#0073C2" stroke-width="5.8"/>
<path d="M1393.3,29.6 L1400.2,42.4 L1407.2,55.2 L1414.1,68.0 L1421.0,80.7 L1428.0,93.5 L1434.9,106.2 L1441.8,118.8 L1448.7,131.4 L1455.7,144.0 L1462.6,156.5 L1469.5,169.0 L1476.5,181.3 L1483.4,193.6 L1490.3,205.8 L1497.2,217.9 L1504.2,229.8 L1511.1,241.6 L1518.0,253.1 L1525.0,264.4 L1531.9,275.4 L1538.8,286.1 L1545.8,296.4 L1552.7,306.1 L1559.6,315.4 L1566.5,324.1 L1573.5,332.2 L1580.4,339.6 L1587.3,346.6 L1594.3,353.0 L1601.2,358.9 L1608.1,364.4 L1615.1,369.6 L1622.0,374.4 L1628.9,379.1 L1635.8,383.5 L1642.8,387.7 L1649.7,391.8 L1656.6,395.8 L1663.6,399.7 L1670.5,403.5 L1670.5,570.1 L1663.6,557.7 L1656.6,545.4 L1649.7,533.2 L1642.8,521.2 L1635.8,509.3 L1628.9,497.5 L1622.0,485.9 L1615.1,474.6 L1608.1,463.6 L1601.2,453.0 L1594.3,442.7 L1587.3,432.9 L1580.4,423.7 L1573.5,415.0 L1566.5,406.9 L1559.6,399.4 L1552.7,392.5 L1545.8,386.1 L1538.8,380.2 L1531.9,374.7 L1525.0,369.5 L1518.0,364.6 L1511.1,360.0 L1504.2,355.6 L1497.2,351.3 L1490.3,347.2 L1483.4,343.2 L1476.5,339.4 L1469.5,335.6 L1462.6,331.8 L1455.7,328.2 L1448.7,324.6 L1441.8,321.0 L1434.9,317.5 L1428.0,314.0 L1421.0,310.6 L1414.1,307.1 L1407.2,303.8 L1400.2,300.4 L1393.3,297.0Z" fill="#999999" fill-opacity="0.4"/>
<line x1="1393.3" y1="163.3" x2="1670.5" y2="486.8" stroke="#EFC000" stroke-width="5.8"/>
</g>
<rect x="1343.15" y="3.95" width="507.85" height="592.95" fill="none" stroke="#444" stroke-width="2.0"/>
<line x1="1475.2" y1="596.9" x2="1475.2" y2="605.6" stroke="#383838" stroke-width="2.9"/>
<line x1="1636.2" y1="596.9" x2="1636.2" y2="605.6" stroke="#383838" stroke-width="2.9"/>
<line x1="1797.3" y1="596.9" x2="1797.3" y2="605.6" stroke="#383838" stroke-width="2.9"/>
<line x1="1334" y1="73.05" x2="1343.15" y2="73.05" stroke="#383838" stroke-width="2.9"/>
<line x1="1334" y1="203.3" x2="1343.15" y2="203.3" stroke="#383838" stroke-width="2.9"/>
<line x1="1334" y1="333.5" x2="1343.15" y2="333.5" stroke="#383838" stroke-width="2.9"/>
<line x1="1334" y1="463.7" x2="1343.15" y2="463.7" stroke="#383838" stroke-width="2.9"/>
<line x1="1334" y1="593.9" x2="1343.15" y2="593.9" stroke="#383838" stroke-width="2.9"/>
<g class="tk">
<text x="1448.33" y="634.2" font-size="27.5">−</text>
<text x="1464.7" y="632.1" font-size="27.5">0.5</text>
<text x="1636.2" y="632.1" text-anchor="middle" font-size="27.5">0.0</text>
<text x="1797.3" y="632.1" text-anchor="middle" font-size="27.5">0.5</text>
<text x="1296.61" y="83.05" font-size="27.5">40</text>
<text x="1296.61" y="213.3" font-size="27.5">30</text>
<text x="1296.61" y="343.5" font-size="27.5">20</text>
<text x="1296.61" y="473.7" font-size="27.5">10</text>
<text x="1311.87" y="603.9" font-size="27.5">0</text>
</g>
<g class="ax">
<text x="1524.87" y="675" font-size="33">mgN</text>
<text x="1595.1" y="685.7" font-size="18">2</text>
<text x="1606.23" y="675" font-size="33">O</text>
<text x="1639.67" y="675" font-size="33">m</text>
<text x="1668.3" y="664.8" font-size="18">−</text>
<text x="1678.1" y="663.4" font-size="18">2</text>
<text x="1698.2" y="675" font-size="33">d</text>
<text x="1717.4" y="664.8" font-size="18">−</text>
<text x="1728.25" y="663.4" font-size="18">1</text>
</g>
<g class="ax">
<text transform="translate(1281.5,396) rotate(-90)" font-size="33">gCO</text>
<text transform="translate(1292.2,327.5) rotate(-90)" font-size="18">2</text>
<text transform="translate(1281.5,307.83) rotate(-90)" font-size="33">m</text>
<text transform="translate(1271.3,282.1) rotate(-90)" font-size="18">−</text>
<text transform="translate(1269.9,271) rotate(-90)" font-size="18">2</text>
<text transform="translate(1281.5,250.5) rotate(-90)" font-size="33">d</text>
<text transform="translate(1271.3,233) rotate(-90)" font-size="18">−</text>
<text transform="translate(1269.9,221.65) rotate(-90)" font-size="18">1</text>
</g>
<text class="lab" transform="translate(1257.05,31.6) scale(0.965,1)" font-size="42.8">C</text>
<g fill="#0073C2" stroke="#0073C2" stroke-width="0.45">
<text class="i" x="1506.02" y="43.3" font-size="33.2">r</text>
<text transform="translate(1534.24,45.6) scale(1,0.855)" font-size="33.2" stroke-width="1">=</text>
<text x="1559.74" y="45.8" font-size="33.2">−</text>
<text x="1580.57" y="43.3" font-size="33.2">0.61</text>
<text class="i" x="1662.43" y="43.3" font-size="33.2">p</text>
<text x="1687.75" y="45.9" font-size="39">&lt;</text>
<text x="1716.57" y="43.3" font-size="33.2">0.001</text>
</g>
<g fill="#EFC000" stroke="#EFC000" stroke-width="0.45">
<text class="i" x="1506.02" y="82.8" font-size="33.2">r</text>
<text transform="translate(1532.94,85.1) scale(1,0.855)" font-size="33.2" stroke-width="1">=</text>
<text x="1558.14" y="85.3" font-size="33.2">−</text>
<text x="1578.87" y="82.8" font-size="33.2">0.54</text>
<text class="i" x="1661.53" y="82.8" font-size="33.2">p</text>
<text x="1685.35" y="85.4" font-size="39">&lt;</text>
<text x="1713.97" y="82.8" font-size="33.2">0.01</text>
</g>
</g>
</svg></body></html>
